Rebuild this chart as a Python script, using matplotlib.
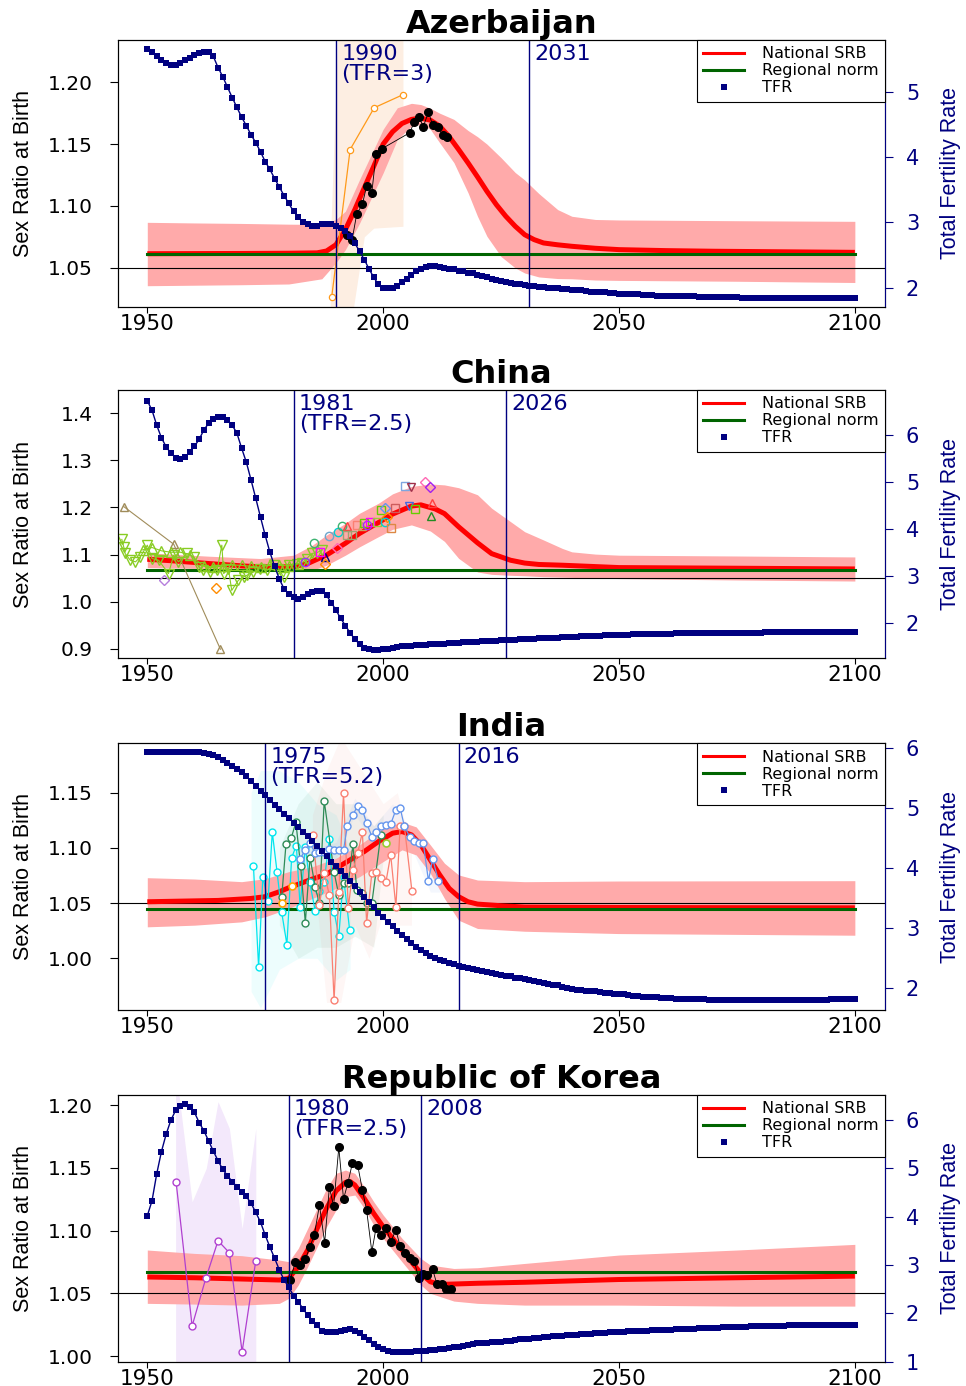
import numpy as np
import matplotlib.pyplot as plt
from matplotlib.lines import Line2D
import matplotlib.transforms as mtransforms

NAVY = '#000080'
GREEN = '#006400'
PINK = '#FFAAAA'
NARROW = ['Liberation Sans Narrow', 'Liberation Sans', 'DejaVu Sans']

tfr_years = np.arange(1950, 2101)

# ---------------- Azerbaijan ----------------
aze_tfr = [5.66, 5.60, 5.55, 5.49, 5.44, 5.41, 5.41, 5.44, 5.48, 5.52,
           5.56, 5.59, 5.61, 5.60, 5.54, 5.37, 5.23, 5.07, 4.91, 4.76,
           4.61, 4.48, 4.34, 4.22, 4.08, 3.93, 3.81, 3.67, 3.54, 3.41,
           3.29, 3.17, 3.08, 3.00, 2.97, 2.95, 2.95, 2.97, 2.97, 2.97,
           2.95, 2.92, 2.87, 2.79, 2.68, 2.56, 2.43, 2.29, 2.16, 2.05,
           2.00, 1.99, 2.00, 2.03, 2.09, 2.14, 2.19, 2.25, 2.29, 2.32,
           2.34, 2.34, 2.32, 2.31, 2.29, 2.28, 2.26, 2.25, 2.23, 2.22,
           2.20, 2.18, 2.16, 2.14, 2.12, 2.11, 2.09, 2.08, 2.06, 2.05,
           2.04, 2.03, 2.02, 2.01, 2.01, 2.00, 1.99, 1.99, 1.98, 1.98,
           1.97, 1.96, 1.96, 1.95, 1.94, 1.94, 1.93, 1.93, 1.92, 1.92,
           1.91, 1.91, 1.90, 1.90, 1.90, 1.89, 1.89, 1.89, 1.88, 1.88,
           1.88, 1.88, 1.87, 1.87, 1.87, 1.87, 1.87, 1.86, 1.86, 1.86,
           1.86, 1.86, 1.86, 1.86, 1.86, 1.86, 1.85, 1.85, 1.85, 1.85,
           1.85, 1.85, 1.85, 1.85, 1.85, 1.85, 1.85, 1.85, 1.85, 1.85,
           1.85, 1.85, 1.85, 1.85, 1.85, 1.85, 1.85, 1.85, 1.85, 1.85,
           1.85]
aze_med_years = [1950, 1960, 1970, 1980, 1986, 1988, 1990, 1992, 1994, 1996, 1998, 2000,
                 2002, 2004, 2006, 2008, 2010, 2012, 2014, 2016, 2018, 2020, 2022, 2024,
                 2026, 2028, 2030, 2032, 2034, 2037, 2040, 2045, 2050, 2060, 2070, 2080,
                 2090, 2100]
aze_med = [1.0613, 1.0614, 1.0615, 1.0617, 1.0620, 1.0635, 1.0686, 1.0808, 1.0970, 1.1146,
           1.1320, 1.1500, 1.1600, 1.1667, 1.1700, 1.1710, 1.1694, 1.1645, 1.1560, 1.1456,
           1.1348, 1.1235, 1.1118, 1.1010, 1.0916, 1.0835, 1.0767, 1.0727, 1.0700, 1.0685,
           1.0673, 1.0657, 1.0646, 1.0638, 1.0633, 1.0630, 1.0627, 1.0624]
aze_band_years = [1950, 1960, 1970, 1980, 1987, 1990, 1992, 1995, 2000, 2003, 2006, 2008,
                  2010, 2012, 2015, 2018, 2020, 2022, 2025, 2028, 2030, 2033, 2037, 2040,
                  2045, 2050, 2075, 2100]
aze_hi = [1.0867, 1.0862, 1.0858, 1.0852, 1.0850, 1.0890, 1.0957, 1.1213, 1.1620, 1.1794,
          1.1830, 1.1820, 1.1790, 1.1750, 1.1700, 1.1610, 1.1560, 1.1500, 1.1390, 1.1270,
          1.1210, 1.1100, 1.0970, 1.0916, 1.0890, 1.0886, 1.0880, 1.0875]
aze_lo = [1.0354, 1.0358, 1.0362, 1.0368, 1.0410, 1.0540, 1.0646, 1.0860, 1.1267, 1.1537,
          1.1645, 1.1660, 1.1620, 1.1510, 1.1350, 1.1106, 1.0916, 1.0754, 1.0590, 1.0498,
          1.0457, 1.0425, 1.0412, 1.0410, 1.0400, 1.0397, 1.0390, 1.0380]
aze_norm = 1.0613
aze_obs_years = [1992.3, 1993.4, 1994.4, 1995.6, 1996.5, 1997.6, 1998.5, 1999.7, 2005.6,
                 2006.6, 2007.6, 2008.5, 2009.6, 2010.5, 2011.7, 2012.6, 2013.6]
aze_obs_srb = [1.0762, 1.0722, 1.0935, 1.1013, 1.1162, 1.1108, 1.1421, 1.1462, 1.1591,
               1.1678, 1.1721, 1.1640, 1.1759, 1.1653, 1.1637, 1.1570, 1.1559]
aze_alt_years = [1989.1, 1993.0, 1998.1, 2004.2]
aze_alt_srb = [1.0265, 1.1456, 1.1794, 1.1900]
aze_alt_band_years = [1988.8, 1990.5, 1993.0, 1996.0, 1998.0, 2004.2]
aze_alt_band_lo = [1.000, 1.000, 1.000, 1.075, 1.082, 1.0835]
aze_alt_band_hi = [1.070, 1.250, 1.250, 1.250, 1.250, 1.250]

# ---------------- China ----------------
chn_tfr = [6.73, 6.53, 6.21, 5.94, 5.75, 5.61, 5.52, 5.49, 5.53, 5.64,
           5.76, 5.91, 6.11, 6.25, 6.34, 6.39, 6.39, 6.32, 6.21, 6.04,
           5.72, 5.42, 5.04, 4.65, 4.25, 3.86, 3.50, 3.20, 2.93, 2.72,
           2.61, 2.54, 2.51, 2.54, 2.61, 2.66, 2.68, 2.67, 2.58, 2.43,
           2.27, 2.09, 1.94, 1.78, 1.65, 1.54, 1.47, 1.44, 1.42, 1.42,
           1.43, 1.44, 1.47, 1.48, 1.50, 1.50, 1.51, 1.52, 1.52, 1.53,
           1.54, 1.54, 1.55, 1.55, 1.56, 1.57, 1.57, 1.58, 1.58, 1.59,
           1.59, 1.60, 1.60, 1.61, 1.62, 1.63, 1.63, 1.64, 1.64, 1.65,
           1.65, 1.66, 1.66, 1.67, 1.67, 1.67, 1.68, 1.68, 1.69, 1.69,
           1.70, 1.70, 1.71, 1.71, 1.72, 1.72, 1.72, 1.73, 1.73, 1.74,
           1.74, 1.74, 1.74, 1.75, 1.75, 1.75, 1.75, 1.76, 1.76, 1.76,
           1.76, 1.76, 1.77, 1.77, 1.77, 1.77, 1.77, 1.78, 1.78, 1.78,
           1.78, 1.78, 1.78, 1.79, 1.79, 1.79, 1.79, 1.79, 1.79, 1.79,
           1.79, 1.80, 1.80, 1.80, 1.80, 1.80, 1.80, 1.80, 1.81, 1.81,
           1.81, 1.81, 1.81, 1.81, 1.81, 1.81, 1.81, 1.81, 1.81, 1.81,
           1.81]
chn_med_years = [1950, 1955, 1963, 1970, 1974, 1981, 1984, 1988, 1992, 1995, 1999, 2002,
                 2006, 2008, 2011, 2013, 2016, 2020, 2023, 2027, 2030, 2033, 2038, 2050,
                 2075, 2100]
chn_med = [1.0900, 1.0870, 1.0810, 1.0760, 1.0740, 1.0740, 1.0810, 1.0990, 1.1240, 1.1450,
           1.1680, 1.1860, 1.2030, 1.2056, 1.1970, 1.1870, 1.1590, 1.1250, 1.1020, 1.0880,
           1.0820, 1.0790, 1.0774, 1.0724, 1.0710, 1.0695]
chn_band_years = [1950, 1963, 1974, 1981, 1985, 1988, 1992, 1995, 1999, 2002, 2006, 2010,
                  2013, 2016, 2020, 2023, 2027, 2030, 2034, 2038, 2040, 2045, 2050, 2075, 2100]
chn_hi = [1.1037, 1.0966, 1.0916, 1.0987, 1.1200, 1.1415, 1.1664, 1.1878, 1.2090, 1.2290,
          1.2447, 1.2500, 1.2480, 1.2420, 1.2270, 1.1985, 1.1700, 1.1486, 1.1310, 1.1130,
          1.1058, 1.1010, 1.0987, 1.0970, 1.0950]
chn_lo = [1.0724, 1.0703, 1.0667, 1.0667, 1.0667, 1.0774, 1.0987, 1.1165, 1.1380, 1.1536,
          1.1630, 1.1500, 1.1280, 1.0920, 1.0630, 1.0580, 1.0560, 1.0550, 1.0530, 1.0520,
          1.0515, 1.0500, 1.0490, 1.0460, 1.0438]
chn_norm = 1.0667
chn_dn_years = [1944.6, 1945.0, 1945.3, 1946.4, 1947.5, 1948.5, 1950.0, 1951.0, 1952.4,
                1954.5, 1955.6, 1956.6, 1958.4, 1959.8, 1960.9, 1961.9, 1963.3, 1964.8,
                1965.8, 1966.2, 1967.2, 1967.9, 1969.3, 1970.4, 1971.1, 1972.5, 1973.9,
                1975.4, 1976.8, 1977.8, 1978.9, 1980.0, 1981.7, 1982.8, 1983.8, 1984.9,
                1985.9, 1987.0]
chn_dn_srb = [1.1322, 1.1165, 1.1023, 1.0880, 1.0845, 1.0950, 1.1200, 1.0916, 1.0880,
              1.0596, 1.0987, 1.0845, 1.1023, 1.0950, 1.0738, 1.0667, 1.0630, 1.0667,
              1.1200, 1.0596, 1.0702, 1.0239, 1.0453, 1.0524, 1.0560, 1.0630, 1.0702,
              1.0667, 1.0774, 1.0702, 1.0524, 1.0774, 1.0810, 1.0820, 1.0916, 1.1023,
              1.1040, 1.1090]
chn_up_years = [1949, 1951, 1953, 1955, 1957, 1959, 1962, 1964, 1966, 1968, 1970, 1972,
                1974, 1976, 1978, 1980, 1982]
chn_up_srb = [1.110, 1.115, 1.108, 1.105, 1.105, 1.100, 1.075, 1.074, 1.076, 1.078, 1.077,
              1.075, 1.073, 1.079, 1.077, 1.076, 1.080]
chn_tan_years = [1945.0, 1955.6, 1965.5]
chn_tan_srb = [1.202, 1.122, 0.899]
chn_obs_years = [1953.5, 1964.5, 1983.5, 1985.4, 1987.6, 1987.6, 1986.7, 1988.6, 1990.4,
                 1990.2, 1991.2, 1992.3, 1992.4, 1993.3, 1994.4, 1995.5, 1996.0, 1996.6,
                 1997.3, 1998.7, 1999.6, 2000.4, 2002.5, 2000.8, 2000.4, 2001.6, 2004.7,
                 2005.9, 2005.4, 2006.8, 2008.9, 2010.0, 2010.4, 2010.2]
chn_obs_srb = [1.047, 1.030, 1.0845, 1.1237, 1.0950, 1.0810, 1.1058, 1.1390, 1.1470,
               1.1130, 1.1610, 1.1600, 1.1415, 1.1415, 1.1630, 1.1600, 1.1680, 1.1630,
               1.1700, 1.1700, 1.1949, 1.1998, 1.1986, 1.1790, 1.1685, 1.1570, 1.2460,
               1.2433, 1.2034, 1.1970, 1.2533, 1.2426, 1.2090, 1.1820]
chn_obs_source = [0, 1, 2, 3, 4, 1, 5, 6, 7, 8, 3, 9, 10, 10, 11, 12, 13, 2, 5, 14, 13, 15,
                  16, 1, 7, 17, 18, 19, 20, 13, 8, 21, 9, 22]

# ---------------- India ----------------
ind_tfr = [5.92, 5.92, 5.92, 5.92, 5.92, 5.92, 5.92, 5.92, 5.92, 5.92,
           5.92, 5.92, 5.91, 5.90, 5.87, 5.84, 5.80, 5.75, 5.70, 5.65,
           5.59, 5.52, 5.44, 5.36, 5.28, 5.21, 5.12, 5.05, 4.97, 4.90,
           4.83, 4.75, 4.68, 4.60, 4.52, 4.44, 4.36, 4.27, 4.19, 4.10,
           4.02, 3.94, 3.86, 3.77, 3.69, 3.60, 3.51, 3.43, 3.34, 3.25,
           3.17, 3.09, 3.02, 2.95, 2.88, 2.81, 2.74, 2.68, 2.63, 2.58,
           2.53, 2.50, 2.47, 2.44, 2.41, 2.39, 2.37, 2.35, 2.33, 2.31,
           2.29, 2.28, 2.26, 2.25, 2.23, 2.22, 2.20, 2.19, 2.17, 2.16,
           2.14, 2.13, 2.11, 2.10, 2.08, 2.07, 2.05, 2.04, 2.02, 2.00,
           1.98, 1.97, 1.96, 1.95, 1.94, 1.94, 1.93, 1.92, 1.91, 1.90,
           1.90, 1.89, 1.88, 1.87, 1.86, 1.85, 1.85, 1.84, 1.84, 1.83,
           1.83, 1.83, 1.82, 1.82, 1.82, 1.82, 1.81, 1.81, 1.81, 1.80,
           1.80, 1.80, 1.80, 1.80, 1.80, 1.80, 1.80, 1.80, 1.80, 1.80,
           1.80, 1.80, 1.80, 1.80, 1.80, 1.80, 1.80, 1.80, 1.80, 1.80,
           1.80, 1.80, 1.80, 1.80, 1.80, 1.81, 1.81, 1.81, 1.81, 1.81,
           1.81]
ind_med_years = [1950, 1965, 1972, 1975, 1978, 1980, 1985, 1988, 1990, 1993, 1996, 1999,
                 2002, 2004, 2006, 2008, 2010, 2012, 2014, 2016, 2018, 2020, 2025, 2030,
                 2050, 2100]
ind_med = [1.0512, 1.0524, 1.0542, 1.0558, 1.0603, 1.0639, 1.0718, 1.0761, 1.0815, 1.0891,
           1.0967, 1.1057, 1.1133, 1.1148, 1.1118, 1.1027, 1.0891, 1.0755, 1.0633, 1.0558,
           1.0512, 1.0491, 1.0476, 1.0464, 1.0460, 1.0457]
ind_band_years = [1950, 1960, 1970, 1975, 1980, 1985, 1990, 1995, 2000, 2004, 2007, 2010,
                  2013, 2016, 2020, 2030, 2050, 2100]
ind_hi = [1.0730, 1.0718, 1.0694, 1.0721, 1.0785, 1.0830, 1.0906, 1.1027, 1.1180, 1.1233,
          1.1190, 1.1027, 1.0861, 1.0755, 1.0709, 1.0694, 1.0700, 1.0703]
ind_lo = [1.0285, 1.0300, 1.0330, 1.0376, 1.0452, 1.0542, 1.0633, 1.0739, 1.0876, 1.0982,
          1.0936, 1.0770, 1.0542, 1.0345, 1.0270, 1.0245, 1.0224, 1.0209]
ind_norm = 1.0445
ind_cyan_years = [1972.5, 1973.6, 1974.5, 1975.6, 1976.5, 1977.5, 1978.5, 1979.6, 1980.6,
                  1981.6, 1982.4, 1983.5, 1984.4, 1985.6, 1986.5, 1987.5, 1988.6, 1989.6,
                  1990.6, 1991.6, 1992.9]
ind_cyan_srb = [1.0839, 0.9921, 1.0739, 1.0518, 1.1142, 1.0785, 1.0415, 1.0124, 1.0912,
                1.1021, 1.0467, 1.1012, 1.0694, 1.0430, 1.0612, 1.0694, 1.1079, 1.0421,
                1.0203, 1.0739, 1.0255]
ind_green_years = [1978.5, 1979.4, 1980.5, 1981.5, 1982.5, 1983.5, 1984.5, 1985.6, 1986.5,
                   1987.5, 1989.6, 1990.6, 1991.6, 1992.6, 1993.6, 1994.4, 1995.5, 1996.5,
                   1997.6, 1999.5]
ind_green_srb = [1.0558, 1.1033, 1.1088, 1.1230, 1.0839, 1.0324, 1.0912, 1.0648, 1.0497,
                 1.1427, 1.0779, 1.0573, 1.0679, 1.0679, 1.1033, 1.0618, 1.0588, 1.0503,
                 1.0497, 1.1118]
ind_salmon_years = [1985.1, 1986.5, 1987.5, 1988.6, 1989.6, 1990.6, 1991.6, 1992.6, 1993.6,
                    1994.6, 1995.6, 1996.5, 1997.6, 1998.5, 1999.6, 2000.6, 2001.6, 2002.7,
                    2003.6, 2004.5, 2006.1]
ind_salmon_srb = [1.1118, 1.0482, 1.0770, 1.0573, 0.9618, 1.0603, 1.1497, 1.0457, 1.0800,
                  1.0952, 1.1142, 1.0321, 1.0770, 1.0779, 1.0724, 1.0694, 1.0936, 1.0467,
                  1.1194, 1.1194, 1.0609]
ind_blue_years = [1982.4, 1983.5, 1984.5, 1985.6, 1986.5, 1987.5, 1988.6, 1989.6, 1990.6,
                  1991.6, 1992.4, 1993.6, 1994.6, 1995.6, 1996.5, 1997.6, 1998.5, 1999.6,
                  2000.6, 2001.6, 2002.7, 2003.6, 2004.5, 2005.6, 2006.6, 2007.6, 2008.5,
                  2009.6, 2010.5, 2011.7]
ind_blue_srb = [1.0900, 1.0982, 1.1042, 1.0952, 1.0961, 1.0961, 1.0991, 1.0982, 1.0982,
                1.0982, 1.1194, 1.1300, 1.1382, 1.1345, 1.1224, 1.1103, 1.1142, 1.1194,
                1.1209, 1.1215, 1.1345, 1.1361, 1.1197, 1.1103, 1.1064, 1.1042, 1.1048,
                1.0703, 1.0900, 1.0703]
ind_extra_years = [1978.5, 1980.6, 2000.6]
ind_extra_srb = [1.0503, 1.0658, 1.1048]
ind_cyan_env_years = [1972, 1974, 1978, 1982, 1986, 1990, 1993]
ind_cyan_env_lo = [0.970, 0.955, 0.990, 1.000, 1.000, 0.980, 0.990]
ind_cyan_env_hi = [1.150, 1.170, 1.170, 1.160, 1.140, 1.130, 1.100]
ind_green_env_years = [1978, 1982, 1986, 1990, 1994, 1998, 2000]
ind_green_env_lo = [1.030, 1.000, 1.010, 1.010, 1.020, 1.010, 1.090]
ind_green_env_hi = [1.100, 1.140, 1.160, 1.140, 1.140, 1.120, 1.130]
ind_salmon_env_years = [1985, 1988, 1991, 1994, 1997, 2000, 2003, 2006]
ind_salmon_env_lo = [1.090, 0.960, 0.960, 1.030, 1.000, 1.040, 1.030, 1.030]
ind_salmon_env_hi = [1.130, 1.170, 1.200, 1.180, 1.160, 1.140, 1.150, 1.100]
ind_blue_env_years = [1982, 1986, 1990, 1994, 1998, 2002, 2006, 2010, 2012]
ind_blue_env_lo = [1.080, 1.090, 1.090, 1.130, 1.105, 1.125, 1.100, 1.060, 1.060]
ind_blue_env_hi = [1.100, 1.100, 1.105, 1.145, 1.120, 1.140, 1.115, 1.100, 1.080]

# ---------------- Republic of Korea ----------------
kor_tfr = [4.02, 4.33, 4.89, 5.35, 5.71, 6.00, 6.20, 6.30, 6.33, 6.28,
           6.16, 5.95, 5.78, 5.57, 5.36, 5.16, 4.98, 4.85, 4.73, 4.62,
           4.52, 4.42, 4.28, 4.09, 3.89, 3.62, 3.37, 3.14, 2.90, 2.69,
           2.54, 2.37, 2.24, 2.10, 1.96, 1.84, 1.75, 1.64, 1.61, 1.61,
           1.62, 1.64, 1.66, 1.67, 1.64, 1.59, 1.52, 1.45, 1.36, 1.30,
           1.26, 1.23, 1.21, 1.21, 1.21, 1.21, 1.21, 1.22, 1.23, 1.23,
           1.24, 1.25, 1.26, 1.27, 1.28, 1.30, 1.31, 1.33, 1.35, 1.36,
           1.38, 1.38, 1.39, 1.40, 1.40, 1.41, 1.42, 1.43, 1.44, 1.46,
           1.47, 1.48, 1.49, 1.50, 1.51, 1.52, 1.53, 1.53, 1.54, 1.55,
           1.55, 1.56, 1.57, 1.57, 1.58, 1.59, 1.59, 1.60, 1.61, 1.61,
           1.62, 1.62, 1.63, 1.63, 1.64, 1.64, 1.64, 1.65, 1.65, 1.66,
           1.66, 1.66, 1.67, 1.67, 1.68, 1.68, 1.68, 1.69, 1.69, 1.70,
           1.70, 1.70, 1.71, 1.71, 1.71, 1.72, 1.72, 1.72, 1.73, 1.73,
           1.73, 1.73, 1.74, 1.74, 1.74, 1.74, 1.75, 1.75, 1.75, 1.75,
           1.76, 1.76, 1.76, 1.76, 1.76, 1.76, 1.77, 1.77, 1.77, 1.77,
           1.77]
kor_med_years = [1950, 1960, 1970, 1978, 1980, 1982, 1984, 1986, 1988, 1990, 1992, 1993,
                 1994, 1996, 1998, 2000, 2002, 2004, 2006, 2008, 2010, 2012, 2015, 2020,
                 2030, 2050, 2075, 2100]
kor_med = [1.0630, 1.0624, 1.0614, 1.0606, 1.0620, 1.0712, 1.0845, 1.1017, 1.1177, 1.1315,
           1.1384, 1.1390, 1.1363, 1.1256, 1.1137, 1.1030, 1.0938, 1.0845, 1.0751, 1.0659,
           1.0592, 1.0571, 1.0574, 1.0580, 1.0588, 1.0610, 1.0624, 1.0637]
kor_band_years = [1950, 1960, 1970, 1978, 1980, 1982, 1984, 1986, 1988, 1990, 1992, 1994,
                  1996, 1998, 2000, 2004, 2008, 2010, 2015, 2020, 2030, 2050, 2075, 2100]
kor_hi = [1.0845, 1.0818, 1.0800, 1.0765, 1.0752, 1.0858, 1.1017, 1.1177, 1.1336, 1.1456,
          1.1482, 1.1456, 1.1350, 1.1230, 1.1124, 1.0938, 1.0778, 1.0725, 1.0698, 1.0704,
          1.0738, 1.0805, 1.0845, 1.0890]
kor_lo = [1.0420, 1.0414, 1.0406, 1.0420, 1.0460, 1.0566, 1.0712, 1.0871, 1.1030, 1.1163,
          1.1270, 1.1283, 1.1177, 1.1044, 1.0938, 1.0751, 1.0566, 1.0500, 1.0438, 1.0420,
          1.0406, 1.0406, 1.0398, 1.0398]
kor_norm = 1.0672
kor_obs_years = [1980.3, 1981.4, 1982.4, 1983.5, 1984.5, 1985.4, 1986.5, 1987.6, 1988.6,
                 1989.5, 1990.6, 1991.6, 1992.5, 1993.5, 1994.6, 1995.6, 1996.5, 1997.6,
                 1998.5, 1999.5, 2000.6, 2001.6, 2002.7, 2003.6, 2004.6, 2005.6, 2006.6,
                 2007.5, 2008.5, 2009.4, 2010.5, 2011.4, 2012.5, 2013.4, 2014.4]
kor_obs_srb = [1.0606, 1.0752, 1.0725, 1.0773, 1.0871, 1.0964, 1.1203, 1.0903, 1.1344,
               1.1195, 1.1663, 1.1251, 1.1376, 1.1540, 1.1522, 1.1323, 1.1161, 1.0831,
               1.1022, 1.0964, 1.1022, 1.0911, 1.1004, 1.0876, 1.0823, 1.0783, 1.0757,
               1.0624, 1.0651, 1.0645, 1.0691, 1.0571, 1.0571, 1.0534, 1.0534]
kor_alt_years = [1956.1, 1959.5, 1962.4, 1965.0, 1967.4, 1970.1, 1973.0]
kor_alt_srb = [1.1389, 1.0239, 1.0619, 1.0919, 1.0823, 1.0034, 1.0760]
kor_alt_band_years = [1956.0, 1959.5, 1962.5, 1965.0, 1967.4, 1970.1, 1973.0]
kor_alt_band_lo = [0.980, 0.980, 0.980, 0.980, 0.980, 0.980, 0.980]
kor_alt_band_hi = [1.230, 1.123, 1.1496, 1.2027, 1.1814, 1.1017, 1.1814]

china_styles = [('D', '#B57EDC'), ('D', '#FF8C00'), ('o', '#9B30FF'), ('o', '#3CB371'),
                ('^', '#000080'), ('s', '#FF00FF'), ('o', '#6CA6CD'), ('o', '#00CED1'),
                ('D', '#FF69B4'), ('^', '#FF4040'), ('s', '#A0A070'), ('s', '#FA8072'),
                ('^', '#C8A060'), ('s', '#66CD00'), ('s', '#9ACD32'), ('D', '#6495ED'),
                ('s', '#CD5C5C'), ('s', '#DD8844'), ('s', '#7EA6E0'), ('v', '#A0304A'),
                ('v', '#4169E1'), ('D', '#A020F0'), ('^', '#228B22')]


def draw_panel(rect, title, srb_lim, srb_ticks, srb_fmt, tfr, tfr_lim, tfr_ticks,
               med_years, med, band_years, lo, hi, norm, vlines, first_label):
    ax = fig.add_axes(rect)
    ax.fill_between(band_years, lo, hi, color=PINK, lw=0, zorder=2)
    ax.axhline(1.05, color='black', lw=0.8, zorder=3)
    ax.plot(med_years, med, color='red', lw=3.6, solid_capstyle='butt', zorder=4)
    ax.plot([1950, 2100], [norm, norm], color=GREEN, lw=2.2, zorder=5)
    for v in vlines:
        ax.axvline(v, color=NAVY, lw=1.0, zorder=7)
    trans = mtransforms.blended_transform_factory(ax.transData, ax.transAxes)
    ax.text(vlines[0] + 1.1, 0.985, first_label, transform=trans, color=NAVY,
            fontsize=16, va='top', ha='left', linespacing=1.0, zorder=8)
    ax.text(vlines[1] + 1.1, 0.985, str(vlines[1]), transform=trans, color=NAVY,
            fontsize=16, va='top', ha='left', zorder=8)
    ax.set_xlim(1943.8, 2106.4)
    ax.set_ylim(*srb_lim)
    ax.set_yticks(srb_ticks)
    ax.set_yticklabels([srb_fmt.format(t) for t in srb_ticks])
    ax.set_xticks([1950, 2000, 2050, 2100])
    ax.tick_params(axis='y', length=6, pad=12, labelsize=14.5, direction='out')
    ax.tick_params(axis='x', length=4, pad=1, labelsize=15.5, direction='out')
    ax.set_title(title, fontsize=23, fontweight='heavy', pad=3)
    ax.text(-0.123, 0.5, 'Sex Ratio at Birth', transform=ax.transAxes, rotation=90,
            ha='center', va='center', fontsize=15.5, family=NARROW)
    ax.text(1.085, 0.5, 'Total Fertility Rate', transform=ax.transAxes, rotation=90,
            ha='center', va='center', fontsize=15.5, family=NARROW, color=NAVY)

    ax2 = ax.twinx()
    ax2.plot(tfr_years, tfr, color=NAVY, lw=1.0, marker='s', ms=3.8, mew=0)
    ax2.set_ylim(*tfr_lim)
    ax2.set_yticks(tfr_ticks)
    ax2.tick_params(axis='y', colors=NAVY, length=6, pad=9, labelsize=15)
    ax2.spines['right'].set_color(NAVY)
    handles = [Line2D([], [], color='red', lw=2.2),
               Line2D([], [], color=GREEN, lw=2.2),
               Line2D([], [], color=NAVY, marker='s', ls='none', ms=5, mew=0)]
    leg = ax2.legend(handles, ['National SRB', 'Regional norm', 'TFR'], loc='upper right',
                     borderaxespad=0, fancybox=False, edgecolor='black', framealpha=1,
                     fontsize=11.5, handlelength=2.6, handletextpad=1.1, labelspacing=0.12,
                     borderpad=0.4)
    leg.get_frame().set_linewidth(0.8)
    return ax


fig = plt.figure(figsize=(9.66, 13.86), dpi=100)
left, width = 0.1222, 0.794

# Azerbaijan
ax = draw_panel([left, 0.7787, width, 0.1924], 'Azerbaijan', (1.0184, 1.2342),
                [1.05, 1.10, 1.15, 1.20], '{:.2f}', aze_tfr, (1.71, 5.79), [2, 3, 4, 5],
                aze_med_years, aze_med, aze_band_years, aze_lo, aze_hi, aze_norm,
                [1990, 2031], '1990\n(TFR=3)')
ax.fill_between(aze_alt_band_years, aze_alt_band_lo, aze_alt_band_hi, color='#FDEEE2',
                lw=0, zorder=1)
ax.plot(aze_alt_years, aze_alt_srb, color='#FF9A1A', lw=0.9, marker='o', ms=4.5,
        mfc='white', mec='#FF9A1A', mew=0.9, zorder=6)
ax.plot(aze_obs_years, aze_obs_srb, color='black', lw=0.6, marker='o', ms=5.5, zorder=6)

# China
ax = draw_panel([left, 0.5250, width, 0.1936], 'China', (0.8796, 1.4495),
                [0.9, 1.0, 1.1, 1.2, 1.3, 1.4], '{:.1f}', chn_tfr, (1.24, 6.96),
                [2, 3, 4, 5, 6], chn_med_years, chn_med, chn_band_years, chn_lo, chn_hi,
                chn_norm, [1981, 2026], '1981\n(TFR=2.5)')
ax.plot(chn_tan_years, chn_tan_srb, color='#A08C5A', lw=0.8, marker='^', ms=6,
        mfc='none', mec='#A08C5A', zorder=6)
ax.plot(chn_up_years, chn_up_srb, color='#88CC22', lw=0.8, marker='^', ms=7,
        mfc='none', mec='#88CC22', zorder=6)
ax.plot(chn_dn_years, chn_dn_srb, color='#88CC22', lw=0.8, marker='v', ms=7,
        mfc='none', mec='#88CC22', zorder=6)
for yr, val, src in zip(chn_obs_years, chn_obs_srb, chn_obs_source):
    mk, col = china_styles[src]
    ax.plot([yr], [val], ls='none', marker=mk, ms=6 if mk != 'D' else 5,
            mfc='none', mec=col, mew=1.0, zorder=6)

# India
ax = draw_panel([left, 0.2713, width, 0.1924], 'India', (0.9532, 1.1947),
                [1.00, 1.05, 1.10, 1.15], '{:.2f}', ind_tfr, (1.63, 6.07), [2, 3, 4, 5, 6],
                ind_med_years, ind_med, ind_band_years, ind_lo, ind_hi, ind_norm,
                [1975, 2016], '1975\n(TFR=5.2)')
for ey, elo, ehi, col in [(ind_cyan_env_years, ind_cyan_env_lo, ind_cyan_env_hi, '#00E5EE'),
                          (ind_green_env_years, ind_green_env_lo, ind_green_env_hi, '#2E8B57'),
                          (ind_salmon_env_years, ind_salmon_env_lo, ind_salmon_env_hi, '#FA8072'),
                          (ind_blue_env_years, ind_blue_env_lo, ind_blue_env_hi, '#6495ED')]:
    ax.fill_between(ey, elo, ehi, color=col, alpha=0.07, lw=0, zorder=1)
for xs, ys, col in [(ind_cyan_years, ind_cyan_srb, '#00E5EE'),
                    (ind_green_years, ind_green_srb, '#2E8B57'),
                    (ind_salmon_years, ind_salmon_srb, '#FA8072'),
                    (ind_blue_years, ind_blue_srb, '#6495ED')]:
    ax.plot(xs, ys, color=col, lw=0.9, marker='o', ms=5, mfc='white', mec=col, mew=1.0,
            zorder=6)
ax.plot(ind_extra_years[:2], ind_extra_srb[:2], ls='none', marker='o', ms=5, mfc='white',
        mec='#FFA500', mew=1.2, zorder=6)
ax.plot(ind_extra_years[2:], ind_extra_srb[2:], ls='none', marker='o', ms=5, mfc='white',
        mec='#9ACD32', mew=1.2, zorder=6)

# Republic of Korea
ax = draw_panel([left, 0.01753, width, 0.1924], 'Republic of Korea', (0.9955, 1.208),
                [1.00, 1.05, 1.10, 1.15, 1.20], '{:.2f}', kor_tfr, (1.0, 6.52),
                [1, 2, 3, 4, 5, 6], kor_med_years, kor_med, kor_band_years, kor_lo, kor_hi,
                kor_norm, [1980, 2008], '1980\n(TFR=2.5)')
ax.fill_between(kor_alt_band_years, kor_alt_band_lo, kor_alt_band_hi, color='#F3E8FB',
                lw=0, zorder=1)
ax.plot(kor_alt_years, kor_alt_srb, color='#B040D0', lw=0.9, marker='o', ms=5,
        mfc='white', mec='#B040D0', mew=1.0, zorder=6)
ax.plot(kor_obs_years, kor_obs_srb, color='black', lw=0.6, marker='o', ms=5.5, zorder=6)

fig.savefig('out.png', dpi=100)
